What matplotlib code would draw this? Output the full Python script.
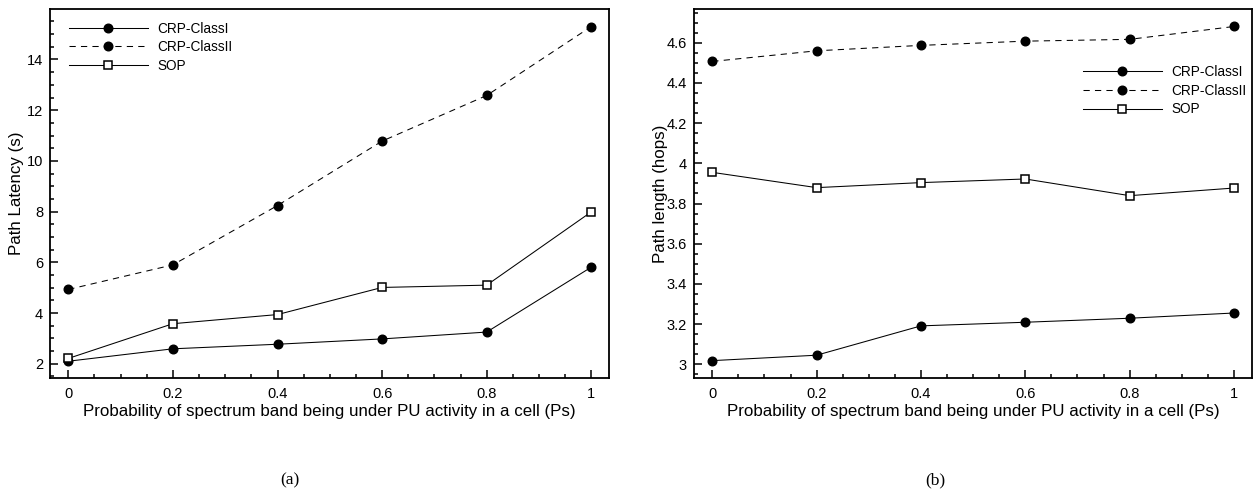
import matplotlib
matplotlib.use("Agg")
import matplotlib.pyplot as plt
from matplotlib.ticker import MultipleLocator, FormatStrFormatter

# x axis: probability Ps
ps = [0, 0.2, 0.4, 0.6, 0.8, 1.0]

# (a) path latency (s)
latency_class1 = [2.10, 2.59, 2.77, 2.98, 3.25, 5.81]
latency_class2 = [4.93, 5.90, 8.24, 10.78, 12.58, 15.30]
latency_sop = [2.21, 3.58, 3.94, 5.01, 5.10, 7.99]

# (b) path length (hops)
hops_class1 = [3.018, 3.045, 3.191, 3.209, 3.229, 3.255]
hops_class2 = [4.507, 4.560, 4.587, 4.608, 4.617, 4.681]
hops_sop = [3.955, 3.879, 3.904, 3.922, 3.839, 3.877]

labels = ["CRP-ClassI", "CRP-ClassII", "SOP"]
xlabel = "Probability of spectrum band being under PU activity in a cell (Ps)"

plt.rcParams["font.family"] = ["Liberation Sans", "DejaVu Sans"]

fig = plt.figure(figsize=(12.53, 4.92), dpi=100)
ax1 = fig.add_axes([0.0399, 0.2323, 0.4462, 0.7494])
ax2 = fig.add_axes([0.5539, 0.2323, 0.4451, 0.7494])


def draw(ax, c1, c2, sop):
    lw = 0.75
    ax.plot(ps, c1, c="black", lw=lw, marker="o", ms=6.2, label=labels[0])
    ax.plot(ps, c2, c="black", lw=lw, marker="o", ms=6.2, dashes=(6, 5),
            label=labels[1])
    ax.plot(ps, sop, c="black", lw=lw, marker="s", ms=5.6, mfc="white",
            mec="black", mew=1.1, label=labels[2])

    ax.set_xlim(-0.035, 1.034)
    ax.xaxis.set_major_locator(MultipleLocator(0.2))
    ax.xaxis.set_minor_locator(MultipleLocator(0.05))
    ax.xaxis.set_major_formatter(FormatStrFormatter("%g"))
    ax.yaxis.set_major_formatter(FormatStrFormatter("%g"))

    for s in ax.spines.values():
        s.set_linewidth(1.3)
    ax.tick_params(which="both", direction="in", top=False, right=False,
                   width=1.1, labelsize=10.5)
    ax.tick_params(which="major", length=6)
    ax.tick_params(which="minor", length=3)
    ax.tick_params(axis="x", pad=7)
    ax.tick_params(axis="y", pad=5)

    ax.set_xlabel(xlabel, fontsize=12.2)
    ax.xaxis.set_label_coords(0.5, -0.07)


draw(ax1, latency_class1, latency_class2, latency_sop)
ax1.set_ylim(1.45, 15.99)
ax1.yaxis.set_major_locator(MultipleLocator(2))
ax1.yaxis.set_minor_locator(MultipleLocator(0.5))
ax1.set_ylabel("Path Latency (s)", fontsize=12.2)
ax1.yaxis.set_label_coords(-0.046, 0.5)
ax1.legend(loc="upper left", bbox_to_anchor=(0.034, 0.965), frameon=False,
           borderpad=0, borderaxespad=0, handlelength=5.8,
           handletextpad=0.7, labelspacing=0.32, fontsize=9.8)

draw(ax2, hops_class1, hops_class2, hops_sop)
ax2.set_ylim(2.933, 4.768)
ax2.yaxis.set_major_locator(MultipleLocator(0.2))
ax2.yaxis.set_minor_locator(MultipleLocator(0.05))
ax2.set_ylabel("Path length (hops)", fontsize=12.2)
ax2.yaxis.set_label_coords(-0.046, 0.5)
ax2.legend(loc="upper left", bbox_to_anchor=(0.697, 0.848), frameon=False,
           borderpad=0, borderaxespad=0, handlelength=5.8,
           handletextpad=0.7, labelspacing=0.34, fontsize=9.8)

# sub-figure captions
fig.text(290 / 1253, 1 - 480 / 492, "(a)", ha="center", va="center",
         family="Liberation Serif", fontsize=12.5)
fig.text(935 / 1253, 1 - 480 / 492, "(b)", ha="center", va="center",
         family="Liberation Serif", fontsize=12.5)

fig.savefig("out.png", dpi=100)
